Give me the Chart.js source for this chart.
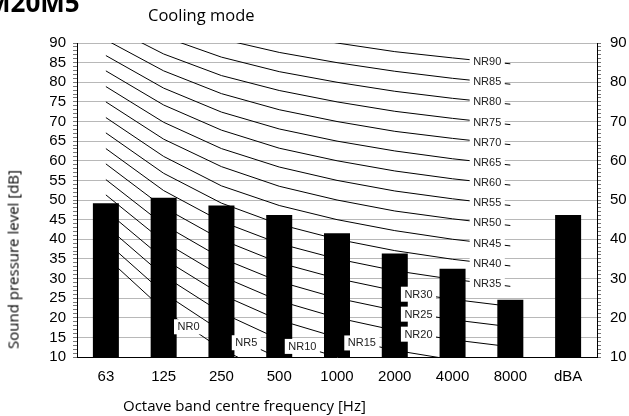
<!DOCTYPE html>
<html>
<head>
<meta charset="utf-8">
<script src="https://cdn.jsdelivr.net/npm/chart.js@4.4.1/dist/chart.umd.min.js"></script>
<style>
  html, body { margin: 0; padding: 0; background: #fff; }
  #wrap { position: relative; width: 629px; height: 416px; overflow: hidden; }
  #chart { position: absolute; left: 0; top: 0; width: 629px; height: 416px; }
  .txt { position: absolute; font-family: 'Open Sans', sans-serif; color: #000; white-space: nowrap; }
  #model { left: -14px; top: -11px; font-size: 26px; line-height: 26px; font-weight: bold; }
  #mode { left: 148px; top: 7px; font-size: 16.5px; line-height: 16.5px; }
  #xtitle { left: 123px; top: 398px; font-size: 15px; line-height: 15px; }
  #ytitle { left: -87px; top: 252px; width: 200px; text-align: center; font-size: 15px; line-height: 15px; transform: rotate(-90deg); }
</style>
</head>
<body>
<div id="wrap">
  <canvas id="chart" width="629" height="416"></canvas>
  <div class="txt" id="model">M20M5</div>
  <div class="txt" id="mode">Cooling mode</div>
  <div class="txt" id="ytitle">Sound pressure level [dB]</div>
  <div class="txt" id="xtitle">Octave band centre frequency [Hz]</div>
</div>
<script>
// ─── Dados ──────────────────────────────────────────────────────────────────
const BANDAS = ['63', '125', '250', '500', '1000', '2000', '4000', '8000', 'dBA'];
const NIVEIS = [49.2, 50.6, 48.6, 46.2, 41.5, 36.4, 32.5, 24.6, 46.2]; // dB

const TICKS_ESQ = [10, 15, 20, 25, 30, 35, 40, 45, 50, 55, 60, 65, 70, 75, 80, 85, 90];
const TICKS_DIR = [10, 20, 30, 40, 50, 60, 70, 80, 90];

// curvas NR (63 Hz ... 8 kHz)
const NR_NOMES = ['NR0', 'NR5', 'NR10', 'NR15', 'NR20', 'NR25', 'NR30', 'NR35', 'NR40', 'NR45',
                  'NR50', 'NR55', 'NR60', 'NR65', 'NR70', 'NR75', 'NR80', 'NR85', 'NR90'];
const NR_CURVAS = [
  [35.5, 22.0, 12.0, 4.8, 0.0, -3.5, -6.1, -8.0],
  [39.4, 26.3, 16.6, 9.7, 5.0, 1.6, -1.0, -2.8],
  [43.4, 30.7, 21.3, 14.5, 10.0, 6.6, 4.2, 2.3],
  [47.3, 35.0, 25.9, 19.4, 15.0, 11.7, 9.3, 7.4],
  [51.3, 39.4, 30.6, 24.3, 20.0, 16.8, 14.4, 12.6],
  [55.2, 43.7, 35.2, 29.2, 25.0, 21.9, 19.5, 17.7],
  [59.2, 48.1, 39.9, 34.0, 30.0, 26.9, 24.7, 22.9],
  [63.1, 52.4, 44.5, 38.9, 35.0, 32.0, 29.8, 28.0],
  [67.1, 56.8, 49.2, 43.8, 40.0, 37.1, 34.9, 33.2],
  [71.0, 61.1, 53.6, 48.6, 45.0, 42.2, 40.0, 38.3],
  [75.0, 65.5, 58.5, 53.5, 50.0, 47.2, 45.2, 43.5],
  [78.9, 69.8, 63.1, 58.4, 55.0, 52.3, 50.3, 48.6],
  [82.9, 74.2, 67.8, 63.2, 60.0, 57.4, 55.4, 53.8],
  [86.8, 78.5, 72.4, 68.1, 65.0, 62.5, 60.5, 58.9],
  [90.8, 82.9, 77.1, 73.0, 70.0, 67.5, 65.7, 64.1],
  [94.7, 87.2, 81.7, 77.9, 75.0, 72.6, 70.8, 69.2],
  [98.6, 91.6, 86.4, 82.7, 80.0, 77.7, 75.9, 74.4],
  [102.6, 95.9, 91.0, 87.6, 85.0, 82.8, 81.0, 79.5],
  [106.5, 100.3, 95.7, 92.5, 90.0, 87.8, 86.2, 84.7]
];

const FONTE = '"Liberation Sans", Arial, sans-serif';

// ─── Rótulos NR (caixa branca sobre a curva) ────────────────────────────────
function posRotulo(i) {
  // segmento da curva onde fica o rótulo e fração ao longo dele
  if (i === 0) return [1, 0.43];
  if (i === 1) return [2, 0.43];
  if (i === 2) return [3, 0.40];
  if (i === 3) return [4, 0.43];
  if (i <= 6) return [5, 0.41];
  return [6, 0.60];
}

const rotulosNR = {
  id: 'rotulosNR',
  afterDatasetsDraw(chart) {
    const { ctx, scales: { x, y } } = chart;
    ctx.save();
    ctx.font = '11px ' + FONTE;
    ctx.textAlign = 'center';
    ctx.textBaseline = 'middle';
    NR_CURVAS.forEach((curva, i) => {
      const [seg, f] = posRotulo(i);
      const x0 = x.getPixelForValue(seg), x1 = x.getPixelForValue(seg + 1);
      const v = curva[seg] + f * (curva[seg + 1] - curva[seg]);
      const px = x0 + f * (x1 - x0);
      const py = y.getPixelForValue(v);
      const w = ctx.measureText(NR_NOMES[i]).width + 7;
      ctx.fillStyle = '#fff';
      ctx.fillRect(px - w / 2, py - 7.5, w, 15);
      ctx.fillStyle = '#222';
      ctx.fillText(NR_NOMES[i], px, py + 0.5);
    });
    ctx.restore();
  }
};

// ─── Gráfico ────────────────────────────────────────────────────────────────
const datasets = [{
  type: 'bar',
  data: NIVEIS,
  backgroundColor: '#000',
  barPercentage: 0.45,
  categoryPercentage: 1,
  order: 2
}];

NR_CURVAS.forEach((curva, i) => {
  datasets.push({
    type: 'line',
    label: NR_NOMES[i],
    data: curva,
    borderColor: '#000',
    borderWidth: 1,
    pointRadius: 0,
    tension: 0,
    fill: false,
    order: 1
  });
});

new Chart(document.getElementById('chart').getContext('2d'), {
  type: 'bar',
  data: { labels: BANDAS, datasets },
  options: {
    responsive: false,
    animation: false,
    layout: { padding: { top: 43, left: 0, right: 0, bottom: 0 } },
    plugins: { legend: { display: false }, tooltip: { enabled: false } },
    scales: {
      x: {
        offset: true,
        grid: { display: true, color: 'transparent', drawTicks: false },
        border: { display: true, color: '#000', width: 1 },
        ticks: { color: '#000', font: { family: FONTE, size: 15 }, padding: 11, maxRotation: 0, autoSkip: false },
        afterFit: s => { s.height = 59; }
      },
      y: {
        position: 'left',
        min: 10, max: 90,
        ticks: {
          stepSize: 1, autoSkip: false, color: '#000', padding: 7,
          font: { family: FONTE, size: 15 },
          callback: v => TICKS_ESQ.includes(v) ? v : ''
        },
        grid: {
          color: c => (c.tick && TICKS_ESQ.includes(c.tick.value)) ? '#b8b8b8' : 'transparent',
          tickColor: '#777',
          tickLength: 4
        },
        border: { color: '#000', width: 1 },
        afterFit: s => { s.width = 77; }
      },
      y2: {
        position: 'right',
        min: 10, max: 90,
        ticks: {
          stepSize: 1, autoSkip: false, color: '#000', padding: 9,
          font: { family: FONTE, size: 15 },
          callback: v => TICKS_DIR.includes(v) ? v : ''
        },
        grid: { drawOnChartArea: false, tickColor: '#777', tickLength: 4 },
        border: { color: '#000', width: 1 },
        afterFit: s => { s.width = 32; }
      }
    }
  },
  plugins: [rotulosNR]
});
</script>
</body>
</html>
